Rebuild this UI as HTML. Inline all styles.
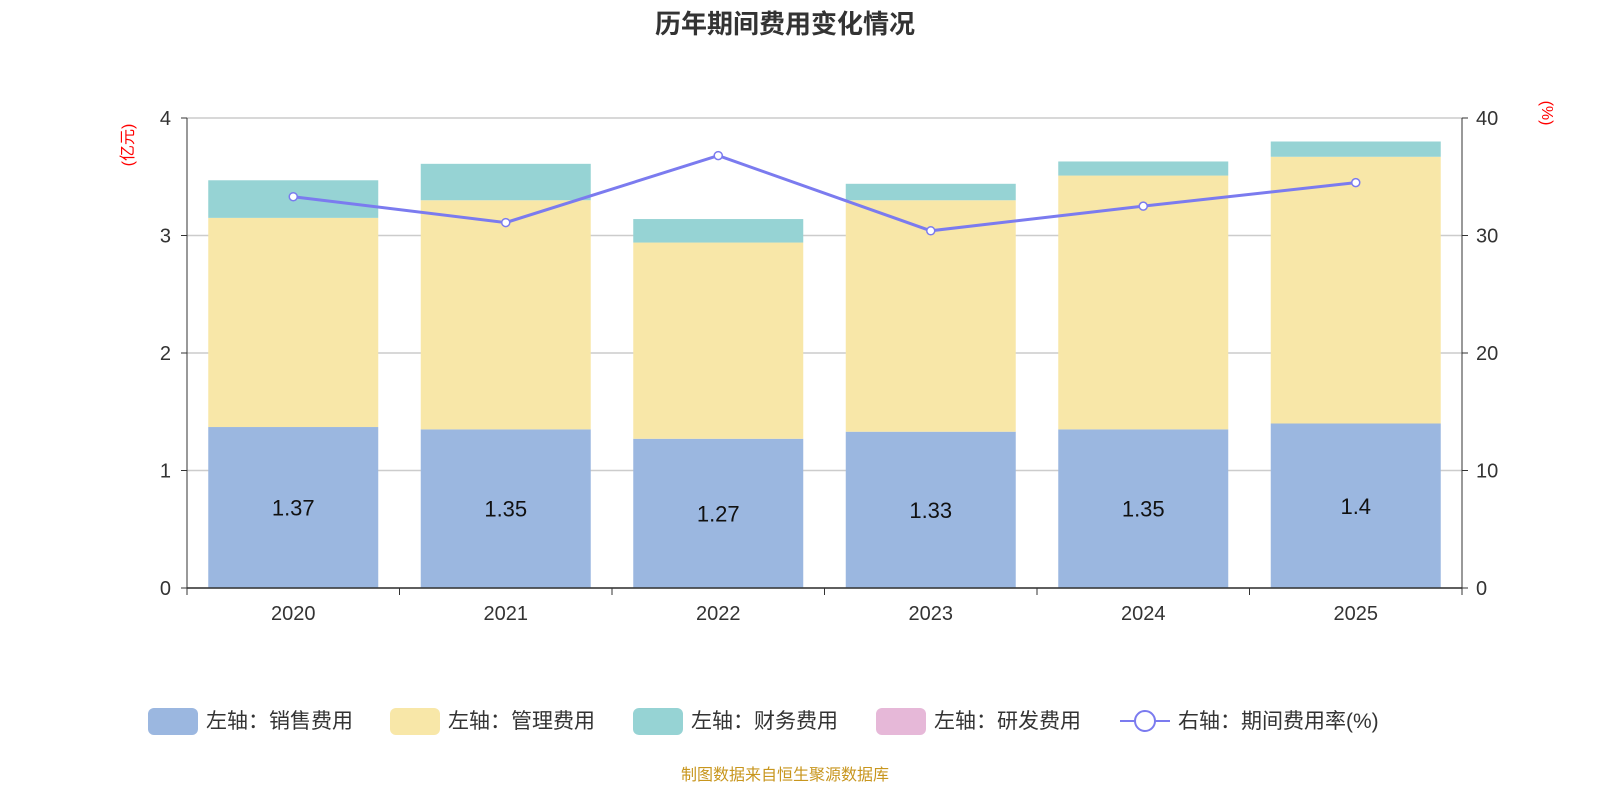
<!DOCTYPE html>
<html><head><meta charset="utf-8"><style>
body{margin:0;background:#fff;font-family:"Liberation Sans","Noto Sans CJK SC",sans-serif;}
</style></head><body>
<svg id="chart" width="1600" height="800" xmlns="http://www.w3.org/2000/svg" style="font-family:'Liberation Sans','Noto Sans CJK SC',sans-serif">
<text x="785" y="33" text-anchor="middle" font-size="26" font-weight="bold" fill="#333">历年期间费用变化情况</text>
<text transform="translate(133,145) rotate(-90)" text-anchor="middle" font-size="16" fill="#f00">(亿元)</text>
<text transform="translate(1542,113) rotate(90)" text-anchor="middle" font-size="16" fill="#f00">(%)</text>
<g id="grid"></g><g id="bars"></g><g id="axes"></g><g id="line"></g>
<g font-size="21" fill="#333">
<rect x="148" y="708" width="50" height="27" rx="6" fill="#9bb7e0"/><text x="206" y="728">左轴：销售费用</text>
<rect x="390" y="708" width="50" height="27" rx="6" fill="#f8e7a8"/><text x="448" y="728">左轴：管理费用</text>
<rect x="633" y="708" width="50" height="27" rx="6" fill="#96d3d4"/><text x="691" y="728">左轴：财务费用</text>
<rect x="876" y="708" width="50" height="27" rx="6" fill="#e6b8d8"/><text x="934" y="728">左轴：研发费用</text>
<line x1="1120" y1="721" x2="1170" y2="721" stroke="#7b7bef" stroke-width="2"/><circle cx="1145" cy="721" r="10" fill="#fff" stroke="#7b7bef" stroke-width="2"/><text x="1178" y="728">右轴：期间费用率(%)</text>
</g>
<text x="785" y="780" text-anchor="middle" font-size="16" fill="#c8961e">制图数据来自恒生聚源数据库</text>
</svg>
<script>
const categories=["2020","2021","2022","2023","2024","2025"];
const sales=[1.37,1.35,1.27,1.33,1.35,1.40];
const admin=[1.78,1.95,1.67,1.97,2.16,2.27];
const finance=[0.32,0.31,0.20,0.14,0.12,0.13];
const rd=[0,0,0,0,0,0];
const rate=[33.3,31.1,36.8,30.4,32.5,34.5];
const leftTicks=[0,1,2,3,4];
const rightTicks=[0,10,20,30,40];
const NS="http://www.w3.org/2000/svg";
const L=187,R=1462,T=118,B=588;
const yL=v=>B-(v/4)*(B-T), yR=v=>B-(v/40)*(B-T);
const band=(R-L)/categories.length, bw=170;
const xC=i=>L+band*(i+0.5);
function mk(p,t,a){const e=document.createElementNS(NS,t);for(const k in a)e.setAttribute(k,a[k]);document.getElementById(p).appendChild(e);return e;}
leftTicks.forEach((v,i)=>{
 let g=mk('grid','line',{x1:L,x2:R,y1:yL(v),y2:yL(v),stroke:'#ccc','stroke-width':1.5});
 
 
 let t=mk('axes','text',{x:L-16,y:yL(v)+7,'text-anchor':'end','font-size':20,fill:'#333'});t.textContent=v;
 
 
 mk('axes','line',{x1:L-6,x2:L,y1:yL(v),y2:yL(v),stroke:'#333'});
});
rightTicks.forEach(v=>{
 let t=mk('axes','text',{x:R+14,y:yR(v)+7,'font-size':20,fill:'#333'});t.textContent=v;
 
 
 mk('axes','line',{x1:R,x2:R+6,y1:yR(v),y2:yR(v),stroke:'#333'});
});
mk('axes','line',{x1:L,x2:L,y1:T,y2:B,stroke:'#333'});
mk('axes','line',{x1:R,x2:R,y1:T,y2:B,stroke:'#333'});
mk('axes','line',{x1:L,x2:R,y1:B,y2:B,stroke:'#333','stroke-width':1.5});
for(let i=0;i<=categories.length;i++)mk('axes','line',{x1:L+band*i,x2:L+band*i,y1:B,y2:B+7,stroke:'#333'});
const series=[[sales,'#9bb7e0','bar-sales'],[admin,'#f8e7a8','bar-admin'],[finance,'#96d3d4','bar-finance'],[rd,'#e6b8d8','bar-rd']];
categories.forEach((c,i)=>{
 let base=0;
 series.forEach(([arr,col,nm])=>{
  const v=arr[i]; if(v<=0)return;
  let r=mk('bars','rect',{x:xC(i)-bw/2,y:yL(base+v),width:bw,height:yL(base)-yL(base+v),fill:col});
  
  
  base+=v;
 });
 let lb=mk('bars','text',{x:xC(i),y:(yL(0)+yL(sales[i]))/2+8,'text-anchor':'middle','font-size':22,fill:'#111'});lb.textContent=sales[i];
 
 
 let t=mk('axes','text',{x:xC(i),y:B+32,'text-anchor':'middle','font-size':20,fill:'#333'});t.textContent=c;
 
 
});
let pl=mk('line','polyline',{points:rate.map((v,i)=>xC(i)+','+yR(v)).join(' '),fill:'none',stroke:'#7b7bef','stroke-width':3});


rate.forEach((v,i)=>{let c=mk('line','circle',{cx:xC(i),cy:yR(v),r:4,fill:'#fff',stroke:'#7b7bef','stroke-width':1.5});
 
 });
</script>
</body></html>
